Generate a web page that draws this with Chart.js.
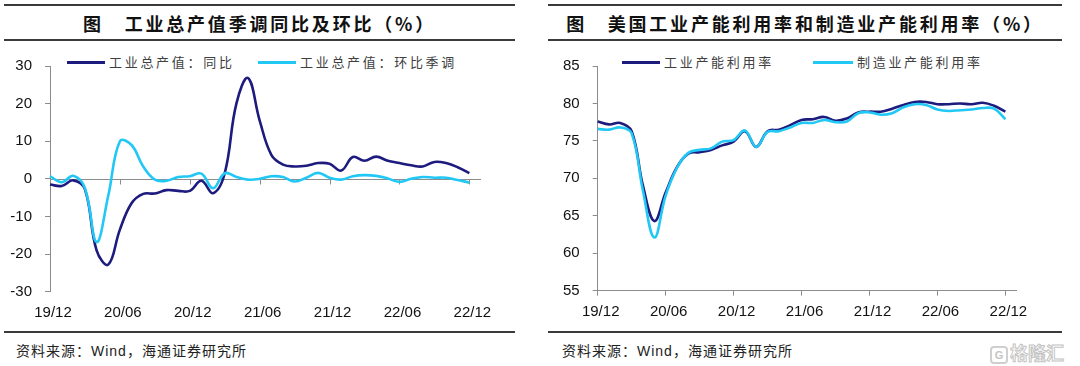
<!DOCTYPE html>
<html>
<head>
<meta charset="utf-8">
<script src="https://cdn.jsdelivr.net/npm/chart.js@4.4.1/dist/chart.umd.min.js"></script>
<style>
body{margin:0;background:#fff;}
#page{position:relative;width:1080px;height:366px;overflow:hidden;background:#fff;font-family:"Noto Sans CJK SC",sans-serif;}
.rule{position:absolute;height:2px;background:#3a3a3a;}
.title{position:absolute;top:9px;height:28px;line-height:28px;text-align:center;font-size:18px;font-weight:bold;letter-spacing:2.8px;color:#111;white-space:nowrap;}
.leg{position:absolute;top:53px;height:18px;line-height:18px;font-size:13px;letter-spacing:2.7px;color:#404040;white-space:nowrap;}
.leg i{display:inline-block;width:38px;height:3px;vertical-align:middle;margin-right:4px;position:relative;top:-1px;}
.src{position:absolute;top:340px;font-size:14px;letter-spacing:1px;color:#222;white-space:nowrap;}
.src span{font-family:"Liberation Sans",Arial,sans-serif;}
.wm{position:absolute;left:990px;top:339px;color:#fff;-webkit-text-stroke:1px #c4c4c4;font-size:18px;font-weight:bold;white-space:nowrap;}
.wm b{display:inline-block;width:14px;height:14px;border:2px solid #cfcfcf;border-radius:4px;font-size:11px;line-height:14px;text-align:center;font-family:"Liberation Sans";vertical-align:middle;margin-right:2px;-webkit-text-stroke:0;color:#c4c4c4;}
canvas{position:absolute;}
</style>
</head>
<body>
<div id="page">
  <div class="rule" style="left:4px;width:511px;top:4px;"></div>
  <div class="rule" style="left:4px;width:511px;top:39px;"></div>
  <div class="rule" style="left:4px;width:511px;top:331px;"></div>
  <div class="rule" style="left:548px;width:514px;top:4px;"></div>
  <div class="rule" style="left:548px;width:514px;top:39px;"></div>
  <div class="rule" style="left:548px;width:514px;top:331px;"></div>

  <div class="title" style="left:4px;width:511px;">图　工业总产值季调同比及环比（%）</div>
  <div class="title" style="left:548px;width:514px;">图　美国工业产能利用率和制造业产能利用率（%）</div>

  <div class="leg" style="left:67px;"><i style="background:#1d1b7e"></i>工业总产值：同比</div>
  <div class="leg" style="left:258px;"><i style="background:#22c8f5"></i>工业总产值：环比季调</div>
  <div class="leg" style="left:622px;"><i style="background:#1d1b7e"></i>工业产能利用率</div>
  <div class="leg" style="left:813px;"><i style="background:#22c8f5;width:40px"></i>制造业产能利用率</div>

  <canvas id="left_chart" width="500" height="290" style="left:0px;top:44px;"></canvas>
  <canvas id="right_chart" width="500" height="290" style="left:540px;top:44px;"></canvas>

  <div class="src" style="left:16px;">资料来源：<span>Wind</span>，海通证券研究所</div>
  <div class="src" style="left:562px;">资料来源：<span>Wind</span>，海通证券研究所</div>

  <div class="wm"><b>G</b>格隆汇</div>
</div>

<script>
// months on the x axis, only every 6th is labelled
var months = ['19/12','20/01','20/02','20/03','20/04','20/05','20/06','20/07','20/08','20/09','20/10','20/11','20/12',
  '21/01','21/02','21/03','21/04','21/05','21/06','21/07','21/08','21/09','21/10','21/11','21/12',
  '22/01','22/02','22/03','22/04','22/05','22/06','22/07','22/08','22/09','22/10','22/11','22/12','23/01'];

// 工业总产值：同比 / 环比季调 (%)
var ipYoy = [-1.5,-1.9,-0.4,-2.8,-19,-22.8,-13.5,-6.5,-4.0,-3.9,-3.0,-3.2,-3.2,
  -0.5,-3.8,1.5,20,26.8,15.5,6.4,3.8,3.3,3.5,4.2,4.0,
  2.2,5.8,4.8,5.9,4.8,4.2,3.6,3.3,4.5,4.2,3.1,1.5,null];
var ipMom = [0.7,-0.9,0.8,-2.5,-16.8,-4.5,10,9,3.3,-0.2,-0.5,0.5,0.7,
  1.4,-2.5,1.5,0.5,-0.2,0,0.7,0.5,-0.7,0.3,1.6,0.3,
  -0.2,0.7,1.0,0.8,0.1,-0.8,0,0.5,0.3,0.3,-0.3,-1.0,null];

// 工业产能利用率 / 制造业产能利用率 (%)
var tcu = [77.6,77.2,77.4,76.3,69.0,64.3,68.1,71.5,73.3,73.5,73.8,74.4,74.9,
  76.3,74.2,76.3,76.5,77.1,77.8,77.9,78.2,77.7,78.0,78.8,78.9,
  78.9,79.3,79.8,80.2,80.2,79.9,79.9,80.0,79.9,80.1,79.7,78.9,null];
var mcu = [76.6,76.5,76.8,76.0,68.3,62.1,67.7,71.4,73.4,73.8,74.0,74.9,75.1,
  76.4,74.2,76.2,76.3,76.8,77.4,77.4,77.8,77.5,77.6,78.7,78.8,
  78.5,78.7,79.5,79.9,79.8,79.2,79.0,79.1,79.2,79.4,79.3,77.9,null];

var leftNames = ['工业总产值：同比','工业总产值：环比季调'];
var rightNames = ['工业产能利用率','制造业产能利用率'];

var darkBlue = '#1d1b7e';
var lightBlue = '#22c8f5';
var axisGray = '#8c8c8c';
var tickFont = {family: '"Liberation Sans", Arial, sans-serif', size: 15};

function line(label, values, color, order) {
    return {label: label, data: values, borderColor: color, backgroundColor: color,
        borderWidth: 2.6, pointRadius: 0, tension: 0.4, order: order, spanGaps: false};
}

function sixMonthLabel(value, index) {
    return index % 6 === 0 ? months[index] : '';
}

// zero line with the small month ticks hanging under it
var zeroAxis = {
    id: 'zeroAxis',
    beforeDatasetsDraw: function(chart) {
        var ctx = chart.ctx;
        var x = chart.scales.x, y = chart.scales.y;
        var y0 = Math.round(y.getPixelForValue(0)) + 0.5;
        ctx.save();
        ctx.strokeStyle = axisGray;
        ctx.lineWidth = 1;
        ctx.beginPath();
        ctx.moveTo(chart.chartArea.left, y0);
        ctx.lineTo(chart.chartArea.right, y0);
        for (var i = 6; i < months.length; i += 6) {
            var px = Math.round(x.getPixelForTick(i)) + 0.5;
            ctx.moveTo(px, y0);
            ctx.lineTo(px, y0 + 5);
        }
        ctx.stroke();
        ctx.restore();
    }
};

var leftChart = new Chart(document.getElementById('left_chart'), {
    type: 'line',
    data: {labels: months, datasets: [
        line(leftNames[0], ipYoy, darkBlue, 1),
        line(leftNames[1], ipMom, lightBlue, 0)
    ]},
    options: {
        responsive: false, animation: false,
        layout: {padding: {left: 8, right: 19, top: 19.3, bottom: 0}},
        plugins: {legend: {display: false}, tooltip: {enabled: false}},
        scales: {
            x: {
                grid: {display: false, drawTicks: false},
                border: {display: false},
                ticks: {autoSkip: false, maxRotation: 0, padding: 12, labelOffset: 3, color: '#111', font: tickFont, callback: sixMonthLabel},
                afterFit: function(s) { s.height = 42.3; }
            },
            y: {
                min: -30, max: 30,
                grid: {drawOnChartArea: false, tickLength: 5, color: axisGray},
                border: {color: axisGray, width: 1},
                ticks: {stepSize: 10, padding: 13, color: '#111', font: tickFont},
                afterFit: function(s) { s.width = 42; }
            }
        }
    },
    plugins: [zeroAxis]
});

var rightChart = new Chart(document.getElementById('right_chart'), {
    type: 'line',
    data: {labels: months, datasets: [
        line(rightNames[0], tcu, darkBlue, 1),
        line(rightNames[1], mcu, lightBlue, 0)
    ]},
    options: {
        responsive: false, animation: false,
        layout: {padding: {left: 15.7, right: 23.3, top: 20, bottom: 0}},
        plugins: {legend: {display: false}, tooltip: {enabled: false}},
        scales: {
            x: {
                grid: {drawOnChartArea: false, tickLength: 5,
                    color: function(c) { return c.index % 6 === 0 ? axisGray : 'rgba(0,0,0,0)'; }},
                border: {display: true, color: axisGray, width: 1},
                ticks: {autoSkip: false, maxRotation: 0, padding: 7, labelOffset: 3, color: '#111', font: tickFont, callback: sixMonthLabel},
                afterFit: function(s) { s.height = 43.3; }
            },
            y: {
                min: 55, max: 85,
                grid: {drawOnChartArea: false, tickLength: 5, color: axisGray},
                border: {color: axisGray, width: 1},
                ticks: {stepSize: 5, padding: 13, color: '#111', font: tickFont},
                afterFit: function(s) { s.width = 42; }
            }
        }
    }
});
</script>
</body>
</html>
